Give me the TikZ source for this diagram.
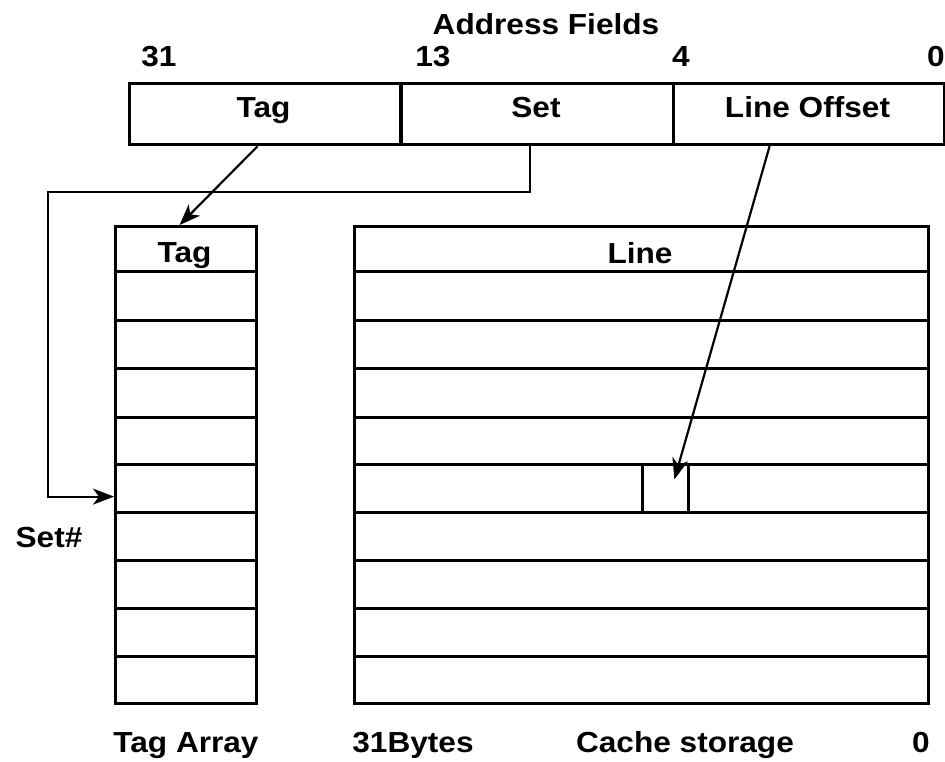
\documentclass[tikz,border=0pt]{standalone}
\usepackage{fontspec}
\setmainfont{Liberation Sans}[FakeStretch=1.09]
\usetikzlibrary{arrows.meta}
\begin{document}
\begin{tikzpicture}[x=1pt,y=-1pt,
  lbl/.style={font=\fontsize{29}{34}\selectfont\bfseries, inner sep=0pt, anchor=base},
  cell/.style={draw, line width=3.2pt, inner sep=0pt, anchor=north west},
  conn/.style={line width=2.2pt, -{Stealth[length=21pt,width=16pt,inset=6pt]}}]
\useasboundingbox (0,0) rectangle (945,762);
% address fields
\node[cell, minimum width=271, minimum height=61] (tagf) at (128,82) {};
\node[cell, minimum width=272, minimum height=61] (setf) at (400,82) {};
\node[cell, minimum width=271, minimum height=61] (lof) at (672,82) {};
\node[lbl] (title) at (546,35) {Address Fields};
\node[lbl] (b31) at (159,67) {31};
\node[lbl] (b13) at (433,67) {13};
\node[lbl] (b4) at (681,67) {4};
\node[lbl] (b0) at (936,67) {0};
\node[lbl] (tagt) at (263.5,118) {Tag};
\node[lbl] (sett) at (536,118) {Set};
\node[lbl] (loft) at (807.5,118) {Line Offset};
% tag array and cache storage
\node[cell, minimum width=141, minimum height=45] (th) at (114,225) {};
\node[cell, minimum width=574, minimum height=45] (lh) at (353,225) {};
\foreach \i/\a/\b in {1/270/319, 2/319/367, 3/367/416, 4/416/463, 5/463/511, 6/511/559, 7/559/607, 8/607/655, 9/655/702} {
  \node[cell, minimum width=141, minimum height=\b-\a] (r\i) at (114,\a) {};
  \node[cell, minimum width=574, minimum height=\b-\a] (c\i) at (353,\a) {};
}
\node[cell, line width=2.8pt, minimum width=46, minimum height=48] (sb) at (641,463) {};
\node[lbl] (tht) at (184.5,262) {Tag};
\node[lbl] (lht) at (640,263) {Line};
\node[lbl] (setn) at (49,547) {Set\#};
\node[lbl] (ta) at (186,752) {Tag Array};
\node[lbl] (by) at (413,752) {31Bytes};
\node[lbl] (cs) at (685,752) {Cache storage};
\node[lbl] (z0) at (921,752) {0};
% connectors
\coordinate (bend) at (48,192);
\draw[conn] ([xshift=-7.5pt]tagf.south) -- ([xshift=-6.5pt]th.north);
\draw[conn] ([xshift=-8pt]setf.south) |- (bend) |- ([yshift=-8pt]r5.west);
\draw[conn] ([xshift=-39.5pt]lof.south) -- ([xshift=9pt,yshift=9pt]sb.center);
\end{tikzpicture}
\end{document}
